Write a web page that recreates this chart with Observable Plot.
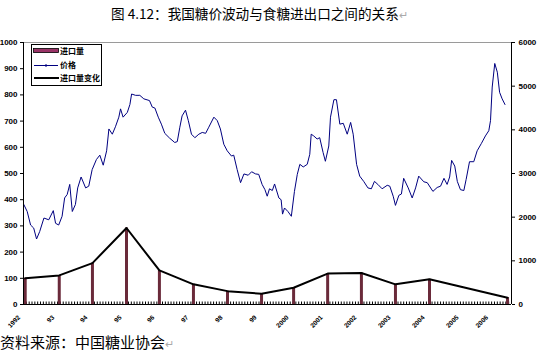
<!DOCTYPE html>
<html><head><meta charset="utf-8">
<script src="https://cdn.jsdelivr.net/npm/d3@7"></script>
<script src="https://cdn.jsdelivr.net/npm/@observablehq/plot@0.6"></script>
<style>
body{margin:0;background:#fff;width:538px;height:355px;position:relative;overflow:hidden;font-family:"Noto Sans CJK SC",sans-serif}
#title{position:absolute;left:111px;top:3px;font-size:13.6px;white-space:nowrap;line-height:20px;color:#000}
#chart{position:absolute;left:0;top:28px}
#legend{position:absolute;left:31px;top:44px;line-height:0}
#caption{position:absolute;left:0;top:332px;font-size:15px;line-height:20px;white-space:nowrap;color:#000}
.pm{color:#aaa;font-size:11px}
</style></head>
<body>
<div id="title">图 4.12：我国糖价波动与食糖进出口之间的关系<span class="pm">↵</span></div>
<div id="chart"></div>
<div id="legend"></div>
<div id="caption">资料来源：中国糖业协会<span class="pm">↵</span></div>
<script>
// months since Jan 1992
const priceMonth = [0.1,1.3,2.5,3.6,4.6,5.7,7.2,8.9,10.5,11.3,
12.4,13.6,14.5,15.4,16.3,17.2,18.3,19.1,20.3,21.9,
23.0,24.2,25.7,26.9,28.1,29.3,30.1,31.3,32.4,33.6,
34.2,35.1,36.6,37.5,38.1,39.5,41.0,42.4,44.4,45.4,
46.3,47.5,48.6,49.8,51.5,53.3,54.2,55.1,55.9,57.1,
58.1,59.2,60.4,61.8,63.0,64.2,65.3,67.1,68.3,69.4,
70.6,71.8,73.3,74.1,75.3,76.5,77.7,79.2,80.4,81.8,
82.9,84.1,85.1,85.9,86.7,87.7,88.5,90.0,90.8,91.3,
92.0,93.2,94.4,95.5,96.5,97.4,98.6,100.0,100.9,101.4,
102.3,103.5,104.4,105.6,106.4,107.6,108.2,109.4,110.3,111.5,
112.7,114.1,115.3,116.2,117.4,118.5,119.9,121.4,122.6,123.7,
124.9,126.4,128.2,129.1,130.3,131.1,132.3,133.2,134.0,135.6,
137.0,138.2,139.3,141.1,142.3,144.3,145.8,147.0,148.2,149.3,
150.2,150.9,152.0,152.9,154.0,155.2,156.0,157.2,158.7,159.9,
161.4,162.8,164.0,164.6,165.2,166.1,167.0,167.8,168.7,169.7];
const priceValue = [2290,2130,1820,1750,1500,1670,1980,1940,2150,1860,
1820,2020,2440,2520,2750,2130,2290,2670,2920,2670,
2710,3090,3320,3420,3190,3520,4020,3900,4070,4290,
4480,4290,4400,4580,4820,4790,4790,4710,4670,4520,
4500,4290,4130,3920,3810,3710,3730,4060,4320,4450,
4210,3900,3820,3900,3940,3920,4060,4290,4210,4020,
3670,3520,3400,3420,3090,2790,2990,2960,3040,2990,
2980,2750,2630,2480,2650,2610,2760,2440,2400,2070,
2210,2130,2020,2590,2980,3210,3150,3210,3440,3900,
3860,3790,3820,3480,3280,3630,4290,4690,4690,4130,
4150,3900,4170,3900,3210,2940,2820,2670,2650,2820,
2750,2650,2730,2710,2480,2270,2500,2530,2890,2670,
2440,2670,2940,2810,2790,2590,2680,2710,2890,2750,
2920,3300,3170,2820,2630,2610,2860,3270,3270,3520,
3690,3860,3980,4210,4980,5520,5320,4860,4710,4580];

const importMonth = [0.6,12.6,24.3,36.3,47.9,59.9,71.9,83.9,95.2,107.2,119.1,131.1,143.1,170.6];
const importValue = [100,111,158,292,130,77,51,41,64,118,120,77,96,26];

const yearLabels = ["1992","93","94","95","96","97","98","99","2000","2001","2002","2003","2004","2005","2006"];
const yearLabelMonth = [0.6,12.6,24.3,36.3,47.9,59.9,71.9,83.9,95.2,107.2,119.1,131.1,143.1,155.1,165.5];

const leftTicks = [0,100,200,300,400,500,600,700,800,900,1000];
const rightTicks = [0,1000,2000,3000,4000,5000,6000];
const legendLabels = ["进口量","价格","进口量变化"];

const prices = priceMonth.map((m,i)=>({month:m, price:priceValue[i]}));
const imports = importMonth.map((m,i)=>({month:m, value:importValue[i]}));
const labels = yearLabels.map((t,i)=>({month:yearLabelMonth[i], text:t}));
const minorTicks = d3.range(0, 173, 1);

const plot = Plot.plot({
  width: 538, height: 302,
  marginLeft: 23, marginRight: 27, marginTop: 14, marginBottom: 26,
  x: {domain: [0, 172], axis: null},
  y: {domain: [0, 1000], axis: null},
  style: {fontFamily: "'Liberation Sans', Arial, sans-serif", fontSize: "8px", fontWeight: "bold", color: "black", background: "white", overflow: "visible"},
  marks: [
    Plot.ruleY([1000], {stroke: "#9a9a9a", strokeWidth: 1}),
    Plot.ruleX(minorTicks, {x: d => d, y1: 0, y2: 0, insetBottom: 2.5, stroke: "black", strokeWidth: 1}),
    Plot.ruleX(imports, {x: "month", y1: 0, y2: "value", stroke: "#6a2a3a", strokeWidth: 3}),
    Plot.line(imports, {x: "month", y: "value", stroke: "black", strokeWidth: 2}),
    Plot.line(prices, {x: "month", y: d => d.price / 6, stroke: "#000080", strokeWidth: 1}),
    Plot.ruleX([0, 172], {stroke: "black", strokeWidth: 1}),
    Plot.ruleY([0], {stroke: "black", strokeWidth: 1}),
    Plot.axisY({anchor: "left", ticks: leftTicks, tickSize: 3, tickPadding: 3, tickFormat: d3.format("d"), label: null}),
    Plot.axisY({anchor: "right", ticks: rightTicks.map(v => v / 6), tickSize: 3, tickPadding: 4, tickFormat: v => d3.format("d")(Math.round(v * 6)), label: null}),
    Plot.text(labels, {x: "month", y: 0, text: "text", rotate: -45, textAnchor: "end", dx: -6, dy: 12, fontSize: 6.5})
  ]
});
document.getElementById("chart").appendChild(plot);

// legend
const lg = d3.select("#legend").append("svg").attr("width", 72).attr("height", 43)
  .style("font-family", "'Noto Sans CJK SC', sans-serif").style("font-size", "8px").style("font-weight", "bold");
lg.append("rect").attr("x", 0.5).attr("y", 0.5).attr("width", 70).attr("height", 41).attr("fill", "white").attr("stroke", "black");
lg.append("rect").attr("x", 2.5).attr("y", 4.5).attr("width", 25).attr("height", 4).attr("fill", "#993366").attr("stroke", "black").attr("stroke-width", 0.8);
lg.append("line").attr("x1", 3).attr("x2", 27).attr("y1", 21.5).attr("y2", 21.5).attr("stroke", "#000080").attr("stroke-width", 1);
lg.append("line").attr("x1", 15).attr("x2", 15).attr("y1", 20).attr("y2", 23).attr("stroke", "#000080").attr("stroke-width", 1);
lg.append("line").attr("x1", 3).attr("x2", 28).attr("y1", 34).attr("y2", 34).attr("stroke", "black").attr("stroke-width", 2);
const ty = [7, 21.5, 34];
legendLabels.forEach((t, i) => {
  lg.append("text").attr("x", 29).attr("y", ty[i]).attr("dy", "0.35em").text(t);
});
</script>
</body></html>
